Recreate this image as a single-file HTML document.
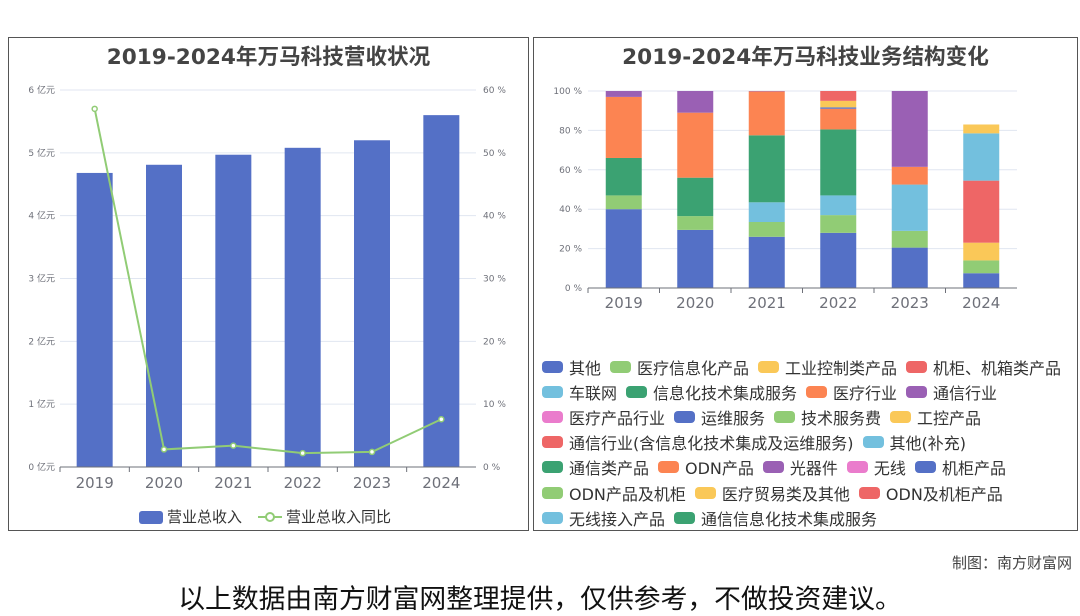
<!DOCTYPE html>
<html><head><meta charset="utf-8">
<style>
body{margin:0;width:1080px;height:614px;background:#fff;font-family:"DejaVu Sans","Noto Sans CJK SC",sans-serif;overflow:hidden;position:relative}
.panel{position:absolute;border:1px solid #555;box-sizing:border-box;background:#fff}
.title{position:absolute;left:0;right:0;text-align:center;font-weight:bold;font-size:21.6px;color:#444;top:2px}
#legend2{position:absolute;left:8px;top:316px;font-size:16px;color:#333}
.lrow{display:flex;height:25.2px;align-items:center;white-space:nowrap}
.li{display:flex;align-items:center;margin-right:9px}
.sw{width:21px;height:12px;border-radius:4px;margin-right:6px}
</style></head><body>
<div class="panel" style="left:8px;top:37px;width:521px;height:494px">
 <div class="title">2019-2024年万马科技营收状况</div>
</div>
<div class="panel" style="left:533px;top:37px;width:545px;height:494px">
 <div class="title">2019-2024年万马科技业务结构变化</div>
 <div id="legend2"></div>
</div>
<svg id="svg" width="1080" height="614" style="position:absolute;left:0;top:0;font-family:'DejaVu Sans','Noto Sans CJK SC',sans-serif"></svg>
<div style="position:absolute;right:8px;top:552px;font-size:15px;color:#444">制图：南方财富网</div>
<div style="position:absolute;left:0;right:0;top:577px;text-align:center;font-size:26.8px;color:#111">以上数据由南方财富网整理提供，仅供参考，不做投资建议。</div>
<script>
const years=["2019","2020","2021","2022","2023","2024"];
const revenue=[4.68,4.81,4.97,5.08,5.2,5.6];
const growth=[57,2.8,3.4,2.2,2.4,7.6];
const revTicks=[0,1,2,3,4,5,6];
const pctTicks=[0,10,20,30,40,50,60];
const seriesNames=["其他","医疗信息化产品","工业控制类产品","机柜、机箱类产品","车联网","信息化技术集成服务","医疗行业","通信行业","医疗产品行业","运维服务","技术服务费","工控产品","通信行业(含信息化技术集成及运维服务)","其他(补充)","通信类产品","ODN产品","光器件","无线","机柜产品","ODN产品及机柜","医疗贸易类及其他","ODN及机柜产品","无线接入产品","通信信息化技术集成服务"];
const colors=["#5470c6","#91cc75","#fac858","#ee6666","#73c0de","#3ba272","#fc8452","#9a60b4","#ea7ccc"];
const s_other=[40,29.5,26,28,20.5,7.5];
const s_medInfo=[7,7,7.5,9,8.5,0];
const s_car=[0,0,10,10,23.5,0];
const s_itService=[19,19.5,34,33.5,0,0];
const s_medical=[31,33,22.3,10.5,9,0];
const s_telecom=[3,11,0.2,0,38.5,0];
const s_ops=[0,0,0,0.7,0,0];
const s_techFee=[0,0,0,0,0,6.5];
const s_ctrl=[0,0,0,3.3,0,9];
const s_telecomAll=[0,0,0,5,0,31.5];
const s_otherSup=[0,0,0,0,0,24];
const s_medTrade=[0,0,0,0,0,4.5];
const shareMap={0:s_other,1:s_medInfo,4:s_car,5:s_itService,6:s_medical,7:s_telecom,9:s_ops,10:s_techFee,11:s_ctrl,12:s_telecomAll,13:s_otherSup,20:s_medTrade};
const stackTicks=[0,20,40,60,80,100];
const legendRows=[[0,1,2,3],[4,5,6,7],[8,9,10,11],[12,13],[14,15,16,17,18],[19,20,21],[22,23]];

const NS="http://www.w3.org/2000/svg",svg=document.getElementById('svg');
function mk(t,a,p){const e=document.createElementNS(NS,t);for(const k in a)e.setAttribute(k,a[k]);(p||svg).appendChild(e);return e;}
const L={x0:60,x1:476,y0:467,y1:90};
const yR=v=>L.y0-(v/6)*(L.y0-L.y1), yP=v=>L.y0-(v/60)*(L.y0-L.y1);
const bw=(L.x1-L.x0)/years.length, xc=i=>L.x0+bw*(i+0.5);
revTicks.forEach((t,i)=>{const y=yR(t);
 if(t>0){const g=mk('line',{x1:L.x0,x2:L.x1,y1:y,y2:y,stroke:'#e0e6f1'});}
 const a=mk('text',{x:55,y:y+3,'text-anchor':'end','font-size':9,fill:'#6e7079'});a.textContent=t+' 亿元';
 const b=mk('text',{x:483,y:y+3,'font-size':9,fill:'#6e7079'});b.textContent=pctTicks[i]+' %';});
revenue.forEach((v,i)=>{const r=mk('rect',{x:xc(i)-18,y:yR(v),width:36,height:L.y0-yR(v),fill:'#5470c6'});
 const t=mk('text',{x:xc(i),y:488,'text-anchor':'middle','font-size':15,fill:'#6e7079'});t.textContent=years[i];
 const k=mk('line',{x1:L.x0+bw*i,x2:L.x0+bw*i,y1:L.y0,y2:L.y0+5,stroke:'#6e7079'});});
mk('line',{x1:L.x0,x2:L.x1,y1:L.y0,y2:L.y0,stroke:'#6e7079'});
const pl=mk('polyline',{points:growth.map((v,i)=>xc(i)+','+yP(v)).join(' '),fill:'none',stroke:'#91cc75','stroke-width':2});

growth.forEach((v,i)=>{const c=mk('circle',{cx:xc(i),cy:yP(v),r:2.5,fill:'#fff',stroke:'#91cc75','stroke-width':1.5});});
let lg=mk('rect',{x:139,y:511,width:24,height:13,rx:3,fill:'#5470c6'});
let lt=mk('text',{x:167,y:522,'font-size':15,fill:'#333'});lt.textContent='营业总收入';
mk('line',{x1:258,x2:282,y1:517,y2:517,stroke:'#91cc75','stroke-width':2});
mk('circle',{cx:270,cy:517,r:4,fill:'#fff',stroke:'#91cc75','stroke-width':2});
lt=mk('text',{x:286,y:522,'font-size':15,fill:'#333'});lt.textContent='营业总收入同比';
const R={x0:588,x1:1017,y0:288,y1:91};
const ys=v=>R.y0-(v/100)*(R.y0-R.y1), bw2=(R.x1-R.x0)/years.length, xc2=i=>R.x0+bw2*(i+0.5);
stackTicks.forEach(t=>{const y=ys(t);
 if(t>0){const g=mk('line',{x1:R.x0,x2:R.x1,y1:y,y2:y,stroke:'#e0e6f1'});}
 const a=mk('text',{x:582,y:y+3,'text-anchor':'end','font-size':9,fill:'#6e7079'});a.textContent=t+' %';});
years.forEach((yr,i)=>{let acc=0;
 seriesNames.forEach((n,s)=>{const arr=shareMap[s];if(!arr||!arr[i])return;const v=arr[i];
  const r=mk('rect',{x:xc2(i)-18,y:ys(acc+v),width:36,height:ys(acc)-ys(acc+v),fill:colors[s%9]});
  acc+=v;});
 const t=mk('text',{x:xc2(i),y:308,'text-anchor':'middle','font-size':15,fill:'#6e7079'});t.textContent=yr;
 mk('line',{x1:R.x0+bw2*i,x2:R.x0+bw2*i,y1:R.y0,y2:R.y0+5,stroke:'#6e7079'});});
mk('line',{x1:R.x0,x2:R.x1,y1:R.y0,y2:R.y0,stroke:'#6e7079'});
const lgd=document.getElementById('legend2');
legendRows.forEach(row=>{const d=document.createElement('div');d.className='lrow';
 
 
 row.forEach(s=>{const it=document.createElement('div');it.className='li';
  
  
  it.innerHTML='<span class="sw" style="background:'+colors[s%9]+'"></span><span>'+seriesNames[s]+'</span>';d.appendChild(it);});
 lgd.appendChild(d);});
</script>
</body></html>
